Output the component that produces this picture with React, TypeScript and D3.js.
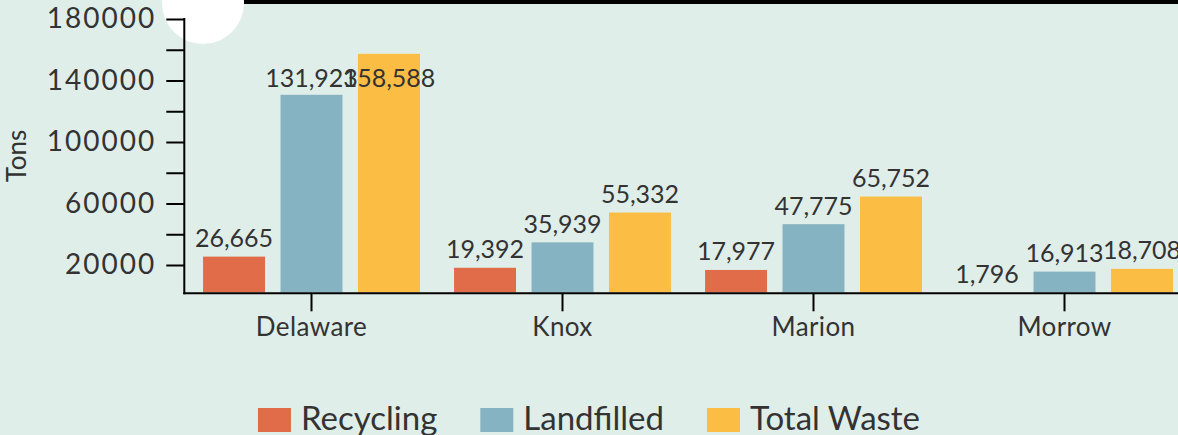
import { useEffect, useRef } from "react";
import * as d3 from "d3";

const counties = ["Delaware", "Knox", "Marion", "Morrow"];
const seriesKeys = ["Recycling", "Landfilled", "Total Waste"];
const recycling = [26665, 19392, 17977, 1796];
const landfilled = [131923, 35939, 47775, 16913];
const totalWaste = [158588, 55332, 65752, 18708];
const yTicks = [20000, 40000, 60000, 80000, 100000, 120000, 140000, 160000, 180000];
const yLabelTicks = [20000, 60000, 100000, 140000, 180000];

const colors = ["#e06c4a", "#86b3c2", "#fbbd44"];

export default function App() {
  const ref = useRef<SVGSVGElement>(null);

  useEffect(() => {
    const width = 1178;
    const height = 435;
    const axisX = 184.3;
    const baseY = 293.3;
    const labelTop = 87; // value labels never go above this line
    const font = "Lato, 'Open Sans', sans-serif";

    const svg = d3.select(ref.current);
    svg.selectAll("*").remove();
    svg.attr("width", width).attr("height", height);

    svg.append("rect").attr("width", width).attr("height", height).attr("fill", "#dfeee9");

    // top decoration
    svg.append("rect").attr("x", 203).attr("y", 0).attr("width", width - 203).attr("height", 4).attr("fill", "#000");
    svg.append("circle").attr("cx", 203).attr("cy", 3).attr("r", 41).attr("fill", "#fff");

    const rows = counties.map((c, i) => ({
      county: c,
      values: [recycling[i], landfilled[i], totalWaste[i]],
    }));

    const y = d3.scaleLinear().domain([0, 180000]).range([295.75, 19]);
    const yBar = d3.scaleLinear().domain([0, 180000]).range([297.6, 20.9]);

    const x0 = d3.scaleBand().domain(counties).range([186, 1190]).paddingInner(0).paddingOuter(0);
    const x1 = d3
      .scaleBand()
      .domain(seriesKeys)
      .range([0, x0.bandwidth()])
      .paddingInner(0.2)
      .paddingOuter(0.22);
    const color = d3.scaleOrdinal<string, string>().domain(seriesKeys).range(colors);

    // bars
    const groups = svg
      .append("g")
      .selectAll("g")
      .data(rows)
      .join("g")
      .attr("transform", (d) => `translate(${x0(d.county)},0)`);

    groups
      .selectAll("rect")
      .data((d) => d.values.map((v, i) => ({ key: seriesKeys[i], value: v })))
      .join("rect")
      .attr("x", (d) => x1(d.key)!)
      .attr("width", x1.bandwidth())
      .attr("y", (d) => Math.min(yBar(d.value), baseY - 1))
      .attr("height", (d) => Math.max(0, baseY - 1 - yBar(d.value)))
      .attr("fill", (d) => color(d.key));

    groups
      .selectAll("text")
      .data((d) => d.values.map((v, i) => ({ key: seriesKeys[i], value: v })))
      .join("text")
      .attr("x", (d) => x1(d.key)! + x1.bandwidth() / 2)
      .attr("y", (d) => Math.max(Math.min(yBar(d.value), baseY - 1) - 9.5, labelTop))
      .attr("text-anchor", "middle")
      .attr("font-family", font)
      .attr("font-size", 25)
      .attr("fill", "#333")
      .text((d) => d3.format(",")(d.value));

    // y axis
    const yAxis = svg.append("g").attr("transform", `translate(${axisX},0)`);
    yAxis
      .call(
        d3
          .axisLeft(y)
          .tickValues(yTicks)
          .tickSize(18)
          .tickPadding(10)
          .tickFormat((d) => (yLabelTicks.includes(d as number) ? String(d) : ""))
      )
      .call((g) => g.select(".domain").remove())
      .call((g) => g.selectAll("line").attr("stroke", "#000").attr("stroke-width", 2))
      .call((g) =>
        g
          .selectAll("text")
          .attr("font-family", font)
          .attr("font-size", 28)
          .attr("letter-spacing", 2)
          .attr("fill", "#333")
      );
    yAxis
      .append("line")
      .attr("x1", 0)
      .attr("x2", 0)
      .attr("y1", y(180000) - 1)
      .attr("y2", baseY + 1)
      .attr("stroke", "#000")
      .attr("stroke-width", 2);

    // x axis
    const xAxis = svg.append("g").attr("transform", `translate(0,${baseY})`);
    xAxis
      .call(d3.axisBottom(x0).tickSize(18).tickPadding(6).tickSizeOuter(0))
      .call((g) => g.select(".domain").remove())
      .call((g) => g.selectAll("line").attr("stroke", "#000").attr("stroke-width", 2))
      .call((g) =>
        g
          .selectAll("text")
          .attr("font-family", font)
          .attr("font-size", 26)
          .attr("letter-spacing", 0.4)
          .attr("fill", "#333")
      );
    xAxis
      .append("line")
      .attr("x1", axisX - 1)
      .attr("x2", width)
      .attr("stroke", "#000")
      .attr("stroke-width", 2);

    // y label
    svg
      .append("text")
      .attr("transform", `translate(26,156) rotate(-90)`)
      .attr("text-anchor", "middle")
      .attr("font-family", font)
      .attr("font-size", 26)
      .attr("fill", "#333")
      .text("Tons");

    // legend, centred
    const legend = svg.append("g");
    const items = legend
      .selectAll("g")
      .data(seriesKeys)
      .join("g");
    items
      .append("rect")
      .attr("y", 408)
      .attr("width", 33)
      .attr("height", 24)
      .attr("fill", (d) => color(d));
    items
      .append("text")
      .attr("x", 43)
      .attr("y", 430)
      .attr("font-family", font)
      .attr("font-size", 33)
      .attr("fill", "#333")
      .text((d) => d);
    let offset = 0;
    const widths: number[] = [];
    items.each(function () {
      const t = d3.select(this).select("text").node() as SVGTextElement;
      widths.push(43 + t.getComputedTextLength());
    });
    const gap = 43;
    const total = d3.sum(widths) + gap * (widths.length - 1);
    const start = width / 2 - total / 2;
    items.attr("transform", (_d, i) => {
      const tx = start + offset;
      offset += widths[i] + gap;
      return `translate(${tx},0)`;
    });
  }, []);

  return (
    <div style={{ position: "absolute", left: 0, top: 0 }}>
      <svg ref={ref} style={{ display: "block" }} />
    </div>
  );
}
